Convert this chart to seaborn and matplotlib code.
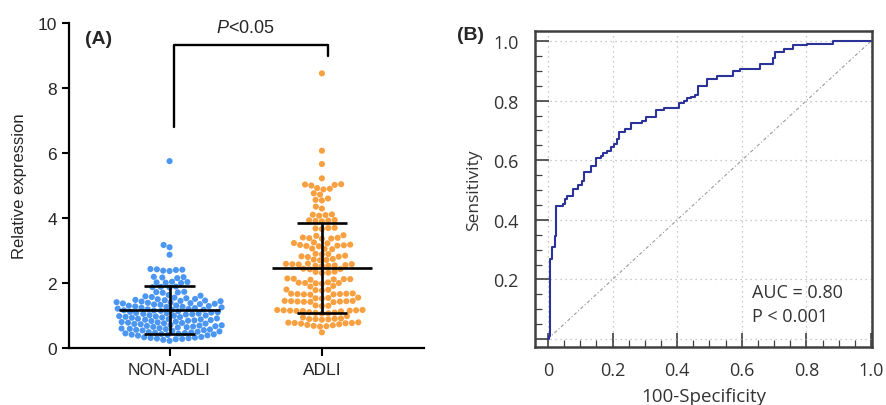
import numpy as np
import pandas as pd
import matplotlib
matplotlib.use("Agg")
import matplotlib.pyplot as plt
import seaborn as sns
from matplotlib.ticker import MultipleLocator

# Panel A data: relative expression
groups = ["NON-ADLI", "ADLI"]
non_adli = [
    0.22, 0.25, 0.27, 0.28, 0.29, 0.30, 0.31, 0.32, 0.33, 0.34,
    0.38, 0.39, 0.40, 0.41, 0.42, 0.43, 0.44, 0.45, 0.46, 0.47,
    0.48, 0.49, 0.50, 0.51, 0.53, 0.54, 0.55, 0.56, 0.57,
    0.58, 0.59, 0.60, 0.61, 0.63, 0.64, 0.65, 0.66, 0.67,
    0.68, 0.69, 0.70, 0.71, 0.73, 0.74, 0.75, 0.76, 0.77,
    0.78, 0.79, 0.80, 0.81, 0.83, 0.84, 0.85, 0.86, 0.87,
    0.88, 0.89, 0.90, 0.91, 0.93, 0.94, 0.95, 0.96, 0.97,
    0.98, 0.99, 1.00, 1.01, 1.03, 1.04, 1.05, 1.06, 1.07,
    1.08, 1.09, 1.10, 1.11, 1.13, 1.14, 1.15, 1.16, 1.17,
    1.18, 1.19, 1.20, 1.21, 1.23, 1.24, 1.25, 1.26, 1.27,
    1.28, 1.29, 1.30, 1.31, 1.33, 1.34, 1.35, 1.36, 1.37,
    1.38, 1.39, 1.40, 1.41, 1.43, 1.44, 1.45, 1.46, 1.47,
    1.48, 1.50, 1.51, 1.53, 1.55, 1.57,
    1.59, 1.61, 1.63,
    1.70, 1.71, 1.72, 1.73,
    1.86, 1.87, 1.88, 1.89,
    2.00, 2.01, 2.02, 2.03, 2.04,
    2.15, 2.17, 2.18, 2.19,
    2.37, 2.38, 2.40, 2.41, 2.42, 2.43,
    2.87, 3.10, 3.17, 5.75,
]
adli = [
    8.45, 6.07, 5.66, 5.22,
    5.00, 5.02, 5.03, 5.04,
    4.88, 4.90, 4.92,
    4.72, 4.76,
    4.54, 4.56, 4.60,
    4.29, 4.35,
    4.07, 4.09, 4.10, 4.11,
    3.90, 3.91, 3.92, 3.93, 3.94,
    3.66, 3.68, 3.69, 3.70,
    3.45, 3.47,
    3.36, 3.37, 3.38, 3.39, 3.40,
    3.22, 3.23, 3.25,
    3.13, 3.14, 3.15, 3.16, 3.17, 3.18,
    3.04, 3.05, 3.06,
    2.88, 2.89, 2.90,
    2.80, 2.81, 2.82, 2.84,
    2.70, 2.71, 2.72, 2.74,
    2.57, 2.58, 2.58, 2.59, 2.60,
    2.52, 2.53, 2.53, 2.54, 2.55,
    2.42, 2.43, 2.44,
    2.31, 2.32, 2.34, 2.35,
    2.10, 2.11, 2.12, 2.12, 2.13, 2.14,
    1.98, 1.99, 2.00, 2.00, 2.01, 2.02,
    1.89, 1.91,
    1.77, 1.78, 1.79, 1.80,
    1.64, 1.65, 1.65, 1.66, 1.66, 1.67, 1.67, 1.68,
    1.52, 1.53, 1.54, 1.55,
    1.41, 1.42, 1.42, 1.43, 1.43, 1.44, 1.44, 1.45, 1.45,
    1.29, 1.30, 1.31,
    1.13, 1.14, 1.14, 1.15, 1.15, 1.16, 1.16, 1.17, 1.17,
    1.06, 1.07, 1.08, 1.09, 1.10,
    0.94, 0.98,
    0.87, 0.88, 0.89, 0.89, 0.90, 0.91,
    0.75, 0.76, 0.77, 0.77, 0.78, 0.79,
    0.66, 0.67, 0.68, 0.70, 0.71, 0.73,
    0.48,
]

# Panel B data: ROC curve vertices (steps)
fpr = [0, 0.003, 0.007, 0.012, 0.023, 0.026, 0.046, 0.054, 0.058, 0.077,
       0.092, 0.107, 0.113, 0.133, 0.150, 0.164, 0.172, 0.184, 0.194, 0.205,
       0.215, 0.220, 0.238, 0.256, 0.292, 0.304, 0.336, 0.358, 0.406, 0.420,
       0.430, 0.443, 0.455, 0.464, 0.493, 0.522, 0.574, 0.594, 0.655, 0.696,
       0.703, 0.732, 0.760, 0.803, 0.882, 1.0]
tpr = [0, 0.01, 0.27, 0.31, 0.345, 0.445, 0.453, 0.47, 0.48, 0.505,
       0.518, 0.53, 0.56, 0.58, 0.606, 0.615, 0.624, 0.632, 0.643, 0.654,
       0.67, 0.694, 0.705, 0.725, 0.733, 0.744, 0.768, 0.776, 0.792, 0.80,
       0.809, 0.814, 0.82, 0.848, 0.872, 0.884, 0.90, 0.908, 0.922, 0.945,
       0.964, 0.973, 0.986, 0.99, 0.999, 1.0]

blue = "#4a96f2"
orange = "#f8a040"

sns.set_style("ticks")
plt.rcParams["font.family"] = ["Liberation Sans", "DejaVu Sans"]
plt.rcParams["mathtext.fontset"] = "custom"
plt.rcParams["mathtext.rm"] = "Liberation Sans"
plt.rcParams["mathtext.it"] = "Liberation Sans:italic"

df = pd.DataFrame({
    "group": ["NON-ADLI"] * len(non_adli) + ["ADLI"] * len(adli),
    "value": non_adli + adli,
})

fig = plt.figure(figsize=(8.87, 4.06), dpi=100)

# ---- Panel A ----
ax1 = fig.add_axes([69 / 887, 1 - 349 / 406, 355 / 887, 325 / 406])
sns.swarmplot(data=df, x="group", y="value", hue="group", order=groups,
              palette=[blue, orange], size=4.4, legend=False, ax=ax1)
ax1.set_xlim(-0.66, 1.67)
ax1.set_ylim(0, 10)

stats = df.groupby("group")["value"].agg(["mean", "std"]).loc[groups]
for i, (m, s) in enumerate(zip(stats["mean"], stats["std"])):
    ax1.hlines(m, i - 0.33, i + 0.33, color="black", lw=1.9, zorder=5)
    ax1.hlines([m - s, m + s], i - 0.165, i + 0.165, color="black", lw=1.9, zorder=5)
    ax1.vlines(i, m - s, m + s, color="black", lw=1.9, zorder=5)

# significance bracket
ax1.plot([0.03, 0.03, 1.04, 1.04], [6.8, 9.32, 9.32, 9.0], color="black", lw=1.7)
ax1.text(0.5, 9.85, "$P$<0.05", ha="center", va="center", fontsize=13)

ax1.set_yticks(range(0, 11, 2))
ax1.set_xlabel("")
ax1.set_ylabel("Relative expression", fontsize=12, labelpad=8)
ax1.tick_params(axis="both", labelsize=12.5, width=1.5, length=5, color="black")
ax1.tick_params(axis="x", length=6, pad=4)
for side in ["top", "right"]:
    ax1.spines[side].set_visible(False)
for side in ["left", "bottom"]:
    ax1.spines[side].set_linewidth(1.6)
    ax1.spines[side].set_color("black")

fig.text(85 / 887, 1 - 39 / 406, "(A)", fontsize=14, fontweight="bold", va="center")

# ---- Panel B ----
gray = "#404040"
ax2 = fig.add_axes([535 / 887, 1 - 348 / 406, 337 / 887, 316 / 406])
sns.lineplot(x=[0, 1], y=[0, 1], color="#9a9a9a", lw=0.8, ls=(0, (3, 2, 1, 2)), ax=ax2)
sns.lineplot(x=fpr, y=tpr, drawstyle="steps-post", estimator=None, sort=False,
             color="#2b3399", lw=1.5, ax=ax2)
ax2.set_xlim(-0.040, 1.003)
ax2.set_ylim(-0.027, 1.034)
ax2.set_xticks(np.arange(0, 1.01, 0.2))
ax2.set_xticklabels(["0", "0.2", "0.4", "0.6", "0.8", "1.0"])
ax2.set_yticks(np.arange(0, 1.01, 0.2))
ax2.set_yticklabels(["", "0.2", "0.4", "0.6", "0.8", "1.0"])
ax2.xaxis.set_minor_locator(MultipleLocator(0.05))
ax2.yaxis.set_minor_locator(MultipleLocator(0.05))
ax2.grid(True, which="major", ls=(0, (1, 3)), color="#b8b8b8", lw=0.9)
ax2.tick_params(which="major", direction="in", length=10, width=1.2, color=gray,
                labelsize=13, labelcolor="#333333")
ax2.tick_params(which="minor", direction="in", length=5, width=0.9, color=gray)
ax2.tick_params(axis="y", pad=12)
ax2.tick_params(axis="x", pad=10)
for spine in ax2.spines.values():
    spine.set_visible(True)
    spine.set_linewidth(1.8)
    spine.set_color(gray)
for lab in ax2.get_xticklabels() + ax2.get_yticklabels():
    lab.set_fontfamily(["Open Sans", "DejaVu Sans"])
ax2.set_xlabel("100-Specificity", fontsize=13.5, color="#333333",
               fontfamily=["Open Sans", "DejaVu Sans"], labelpad=6)
ax2.set_ylabel("Sensitivity", fontsize=12.5, color="#333333",
               fontfamily=["Open Sans", "DejaVu Sans"], labelpad=8)
ax2.text(0.632, 0.158, "AUC = 0.80", fontsize=13, color="#333333", va="center",
         fontfamily=["Open Sans", "DejaVu Sans"])
ax2.text(0.632, 0.077, "P < 0.001", fontsize=13, color="#333333", va="center",
         fontfamily=["Open Sans", "DejaVu Sans"])

fig.text(457 / 887, 1 - 35 / 406, "(B)", fontsize=14, fontweight="bold", va="center")

fig.savefig("out.png", dpi=100)
